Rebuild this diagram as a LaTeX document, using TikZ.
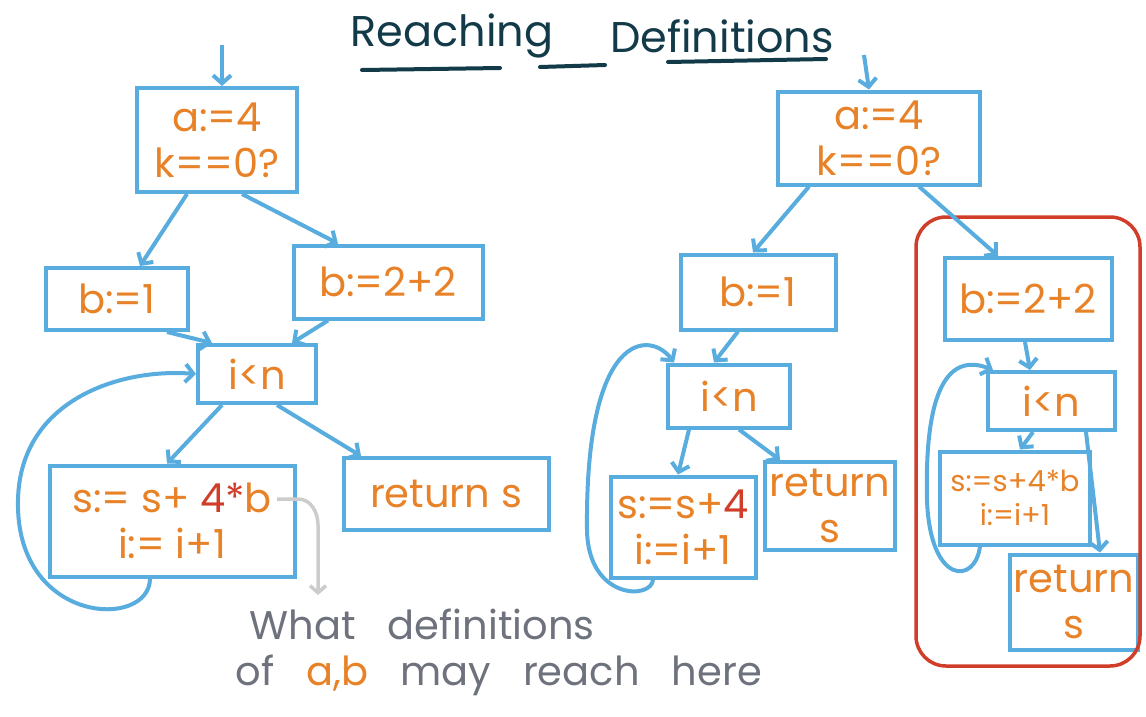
\documentclass[tikz,border=0pt]{standalone}
\usepackage{fontspec}
\setmainfont{Poppins}
\usetikzlibrary{arrows.meta}
\definecolor{B}{RGB}{88, 172, 222}
\definecolor{O}{RGB}{232, 130, 40}
\definecolor{R}{RGB}{208, 62, 42}
\definecolor{K}{RGB}{18, 58, 72}
\definecolor{Gr}{RGB}{110, 114, 125}
\definecolor{L}{RGB}{204, 204, 204}

\begin{document}
\begin{tikzpicture}[x=1pt, y=-1pt,
  box/.style={draw=B, line width=4pt, text=O, align=center, inner sep=0pt,
    font=\fontsize{40}{46}\selectfont},
  small/.style={font=\fontsize{29}{34}\selectfont},
  edge/.style={draw=B, line width=4pt, -{Straight Barb[length=8pt,width=18pt]}},
  note/.style={text=Gr, anchor=west, font={\fontsize{40}{44}\selectfont\spaceskip=32pt\relax}}]
  \useasboundingbox (0,0) rectangle (1146,716);

  \node[text=K, font=\fontsize{43}{50}\selectfont] (t1) at (452,36) {Reaching};
  \node[text=K, font=\fontsize{43}{50}\selectfont] (t2) at (722,36) {Definitions};
  \draw[K, line width=4pt, line cap=round] (362,70) -- (500,68);
  \draw[K, line width=4pt, line cap=round] (540,67) -- (605,65);
  \draw[K, line width=4pt, line cap=round] (668,62) -- (826,59);

  \node[box, minimum width=160pt, minimum height=104pt] (a1) at (217,140) {a:=4\\k==0?};
  \node[box, minimum width=142pt, minimum height=62pt] (b1) at (117,299) {b:=1};
  \node[box, minimum width=189pt, minimum height=73pt] (b2) at (388,282) {b:=2+2};
  \node[box, minimum width=118pt, minimum height=58pt] (c1) at (257,374) {i<n};
  \node[box, minimum width=245pt, minimum height=111pt] (d1) at (172,521) {s:= s+ \textcolor{R}{4*}b\\i:= i+1};
  \node[box, minimum width=205pt, minimum height=72pt] (e1) at (446,494) {return s};

  \coordinate (in1) at (222,45);
  \draw[edge] (in1) -- ([xshift=5pt]a1.north);
  \draw[edge] ([xshift=-30pt]a1.south) -- ([xshift=23pt]b1.north);
  \draw[edge] ([xshift=25pt]a1.south) -- ([xshift=-50pt]b2.north);
  \draw[edge] ([xshift=50pt]b1.south) -- ([xshift=-45pt]c1.north);
  \draw[edge] ([xshift=-60pt]b2.south) -- ([xshift=35pt]c1.north);
  \draw[edge] ([xshift=-35pt]c1.south) -- ([xshift=-5pt]d1.north);
  \draw[edge] ([xshift=20pt]c1.south) -- ([xshift=-85pt]e1.north);
  \draw[edge] ([xshift=-22pt]d1.south) .. controls (150,630) and (15,625) .. (18,500)
    .. controls (20,400) and (120,368) .. (c1.west);

  \coordinate (g0) at (277,499);
  \coordinate (g1) at (318,595);
  \draw[L, line width=3.5pt, -{Straight Barb[length=7pt,width=16pt]}] (g0) -- (298,499)
    to[out=0, in=90] (318,525) -- (g1);
  \node[note] (q1) at (246,624) {What definitions};
  \node[note] (q2) at (232,675) {of \textcolor{O}{a,b} may reach here};

  \node[box, minimum width=202pt, minimum height=93pt] (a2) at (879,138) {a:=4\\k==0?};
  \node[box, minimum width=155pt, minimum height=75pt] (b3) at (758,292) {b:=1};
  \node[box, minimum width=167pt, minimum height=82pt] (b4) at (1028,299) {b:=2+2};
  \node[box, minimum width=122pt, minimum height=63pt] (c2) at (729,396) {i<n};
  \node[box, minimum width=145pt, minimum height=101pt] (d2) at (683,527) {s:=s+\textcolor{R}{4}\\i:=i+1};
  \node[box, minimum width=130pt, minimum height=88pt] (e2) at (830,506) {return\\s};
  \node[box, minimum width=127pt, minimum height=58pt] (c3) at (1051,401) {i<n};
  \node[box, small, minimum width=150pt, minimum height=93pt] (d3) at (1015,498) {s:=s+4*b\\i:=i+1};
  \node[box, minimum width=128pt, minimum height=95pt] (e3) at (1074,602) {return\\s};

  \draw[R, line width=3.5pt, rounded corners=30pt] (916,217) rectangle (1140,666);

  \coordinate (in2) at (864,55);
  \draw[edge] (in2) -- ([xshift=-10pt]a2.north);
  \draw[edge] ([xshift=-70pt]a2.south) -- ([xshift=-5pt]b3.north);
  \draw[edge] ([xshift=40pt]a2.south) -- ([xshift=-30pt]b4.north);
  \draw[edge] ([xshift=-20pt]b3.south) -- ([xshift=-15pt]c2.north);
  \draw[edge] ([xshift=-40pt]c2.south) -- ([xshift=-5pt]d2.north);
  \draw[edge] ([xshift=10pt]c2.south) -- ([xshift=-50pt]e2.north);
  \draw[edge] ([xshift=-30pt]d2.south) .. controls (652,600) and (588,600) .. (587,530)
    .. controls (585,330) and (650,330) .. ([xshift=-55pt]c2.north);
  \draw[edge] ([xshift=-3pt]b4.south) -- ([xshift=-21pt]c3.north);
  \draw[edge] ([xshift=-18pt]c3.south) -- ([xshift=5pt]d3.north);
  \draw[edge] ([xshift=35pt]c3.south) -- ([xshift=26pt]e3.north);
  \draw[edge] ([xshift=-35pt]d3.south) .. controls (975,585) and (930,585) .. (927,500)
    .. controls (924,375) and (955,355) .. ([xshift=-58pt]c3.north);
\end{tikzpicture}
\end{document}
